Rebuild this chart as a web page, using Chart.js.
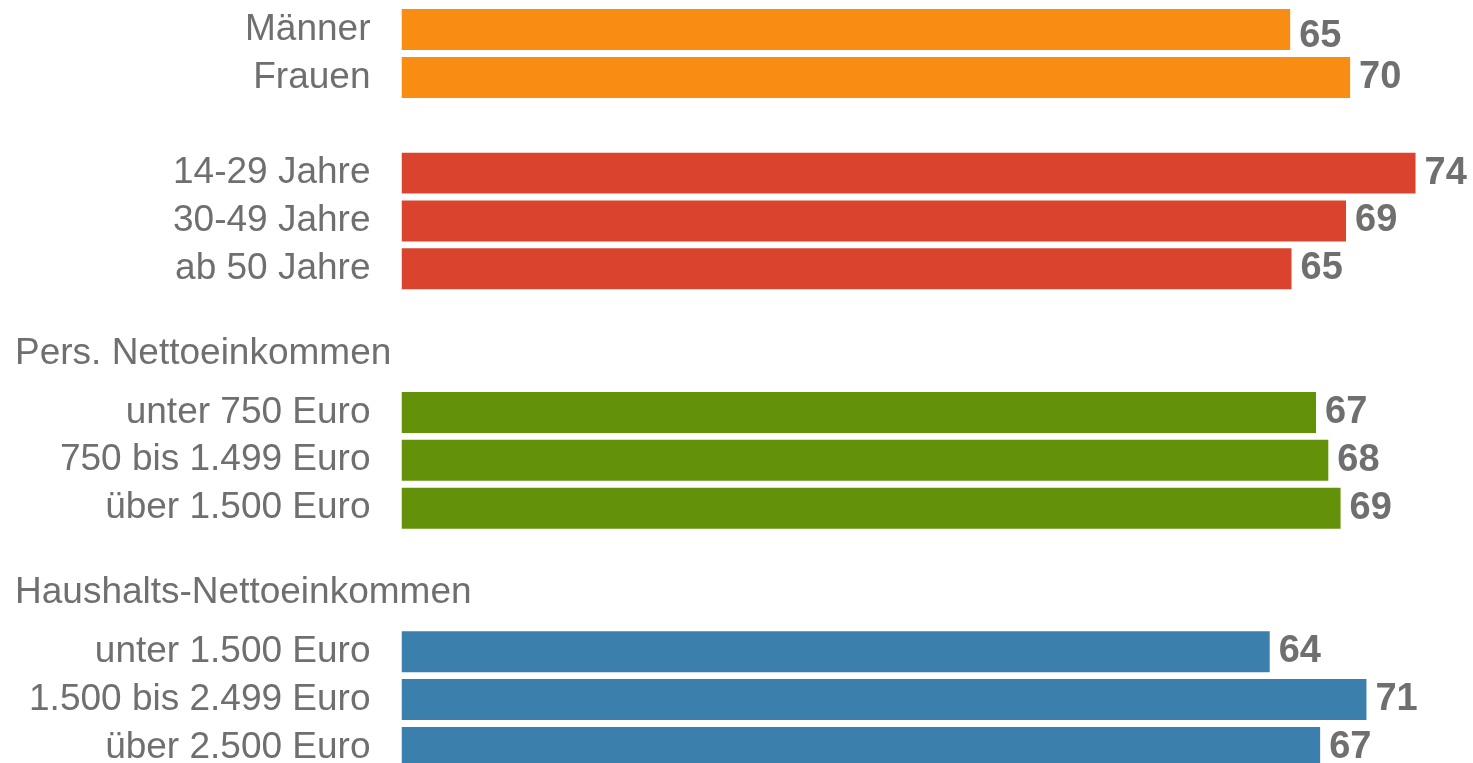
<!DOCTYPE html>
<html>
<head>
<meta charset="utf-8">
<script src="https://cdn.jsdelivr.net/npm/chart.js@4/dist/chart.umd.min.js"></script>
<style>
  html, body { margin: 0; padding: 0; background: #fff; overflow: hidden; }
  #wrap { position: absolute; left: 0; top: 0; width: 1473px; height: 776px; }
</style>
</head>
<body>
<div id="wrap"><canvas id="chart"></canvas></div>
<script>
const categories = [
  "Männer", "Frauen", "",
  "14-29 Jahre", "30-49 Jahre", "ab 50 Jahre", "",
  "Pers. Nettoeinkommen", "unter 750 Euro", "750 bis 1.499 Euro", "über 1.500 Euro", "",
  "Haushalts-Nettoeinkommen", "unter 1.500 Euro", "1.500 bis 2.499 Euro", "über 2.500 Euro"
];
const headers = ["Pers. Nettoeinkommen", "Haushalts-Nettoeinkommen"];

// bar lengths as measured, and the rounded numbers printed next to them
const values = [65.2, 69.6, null, 74.4, 69.3, 65.3, null, null, 67.1, 68.0, 68.9, null, null, 63.7, 70.8, 67.4];
const printed = [65, 70, null, 74, 69, 65, null, null, 67, 68, 69, null, null, 64, 71, 67];
const groups = [0, 0, null, 1, 1, 1, null, null, 2, 2, 2, null, null, 3, 3, 3];
const groupColors = ["#F98C12", "#DA442E", "#64910A", "#3B7FAC"];

const FONT = "'Liberation Sans', Arial, sans-serif";
const TEXT = "#6f6f6f";

const headerPlugin = {
  id: "headers",
  afterDraw(chart) {
    const y = chart.scales.y;
    const ctx = chart.ctx;
    ctx.save();
    ctx.font = `37px ${FONT}`;
    ctx.fillStyle = TEXT;
    ctx.textAlign = "left";
    ctx.textBaseline = "middle";
    categories.forEach((c, i) => {
      if (headers.includes(c)) ctx.fillText(c, 15, y.getPixelForValue(i) - 11);
    });
    ctx.restore();
  },
};

const valuePlugin = {
  id: "values",
  afterDatasetsDraw(chart) {
    const meta = chart.getDatasetMeta(0);
    const ctx = chart.ctx;
    ctx.save();
    ctx.font = `bold 38px ${FONT}`;
    ctx.fillStyle = TEXT;
    ctx.textAlign = "left";
    ctx.textBaseline = "middle";
    meta.data.forEach((bar, i) => {
      if (printed[i] == null) return;
      const dy = i === 0 ? 7 : 0; // first label sits a bit low in the original
      ctx.fillText(String(printed[i]), bar.x + 9, bar.y + dy);
    });
    ctx.restore();
  },
};

new Chart(document.getElementById("chart"), {
  type: "bar",
  data: {
    labels: categories,
    datasets: [{
      data: values,
      backgroundColor: groups.map(g => g == null ? "transparent" : groupColors[g]),
      barPercentage: 0.856,
      categoryPercentage: 1,
      borderWidth: 0,
    }],
  },
  options: {
    indexAxis: "y",
    responsive: true,
    maintainAspectRatio: false,
    animation: false,
    layout: { padding: { top: 5.6, bottom: 4.6, left: 0, right: 8.4 } },
    plugins: { legend: { display: false }, tooltip: { enabled: false } },
    scales: {
      x: { display: false, min: 0, max: 78 },
      y: {
        grid: { display: false, drawTicks: false },
        border: { display: false },
        afterFit(axis) {
          axis.width = 401.5;
          axis.paddingTop = 0;
          axis.paddingBottom = 0;
        },
        ticks: {
          padding: 31,
          color: TEXT,
          font: { family: FONT, size: 37 },
          autoSkip: false,
          callback(v, i) { return headers.includes(categories[i]) ? "" : categories[i]; },
        },
      },
    },
  },
  plugins: [headerPlugin, valuePlugin],
});
</script>
</body>
</html>
